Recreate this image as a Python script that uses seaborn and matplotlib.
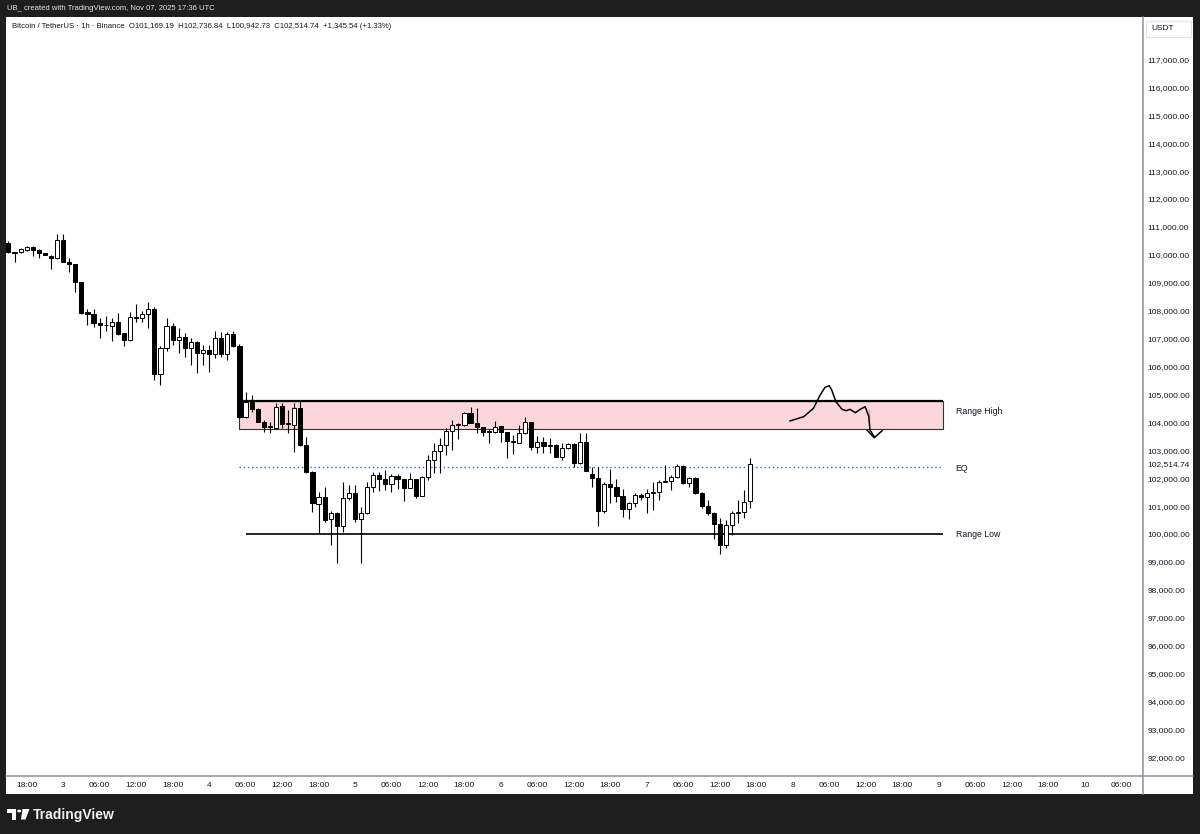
import matplotlib
matplotlib.use("Agg")
import matplotlib.pyplot as plt
from matplotlib.patches import Rectangle, Polygon, Circle
from matplotlib.lines import Line2D
import seaborn as sns
import pandas as pd
import numpy as np

# ---------------- data ----------------
# hourly candles, hour offset from Nov 3 00:00 UTC (Nov 2 15:00 -> Nov 7 17:00)
hours = list(range(-9, 114))
opens = [110413, 110080, 110112, 110173, 110291, 110173, 110065, 109969, 109876, 110531,
         109754, 109661, 109016, 107940, 107870, 107569, 107470, 107440, 107583, 107190,
         106940, 107762, 107726, 107870, 108049, 105731, 106652, 107451, 106949, 107067,
         106652, 106860, 106473, 106580, 106448, 107010, 106448, 107153, 106745, 104180,
         104739, 104478, 104023, 103822, 103786, 104596, 103929, 103904, 104503, 103188,
         102230, 101085, 101325, 100527, 100741, 100287, 101279, 101469, 100537, 100741,
         101673, 102113, 101959, 101802, 102088, 101959, 101658, 101959, 101372, 102031,
         102651, 102984, 103188, 103700, 103904, 103904, 104323, 103987, 103822, 103700,
         103664, 103870, 103643, 103342, 103270, 103607, 104001, 103106, 103306, 103163,
         103188, 102769, 103091, 103213, 102532, 103306, 102149, 101995, 100835, 101791,
         101694, 101361, 100885, 101100, 101397, 101315, 101458, 101515, 101873, 101898,
         102031, 102436, 101816, 101995, 101480, 101003, 100741, 100358, 99606, 100322,
         100763, 100799, 101169.19]
highs = [110495, 110115, 110234, 110316, 110310, 110200, 110080, 109985, 110735, 110735,
         109876, 109680, 109030, 108060, 108060, 107726, 107819, 107748, 107905, 107200,
         107941, 108239, 107988, 108321, 108142, 106745, 107748, 107547, 107368, 107189,
         107010, 106900, 106770, 106770, 107271, 107225, 107250, 107271, 106800, 105097,
         104979, 104500, 104080, 104023, 104682, 104682, 104442, 104682, 104800, 103485,
         102260, 101494, 101694, 100824, 100799, 101873, 101755, 101755, 100978, 101873,
         102232, 102210, 102292, 102138, 102138, 101980, 102174, 101980, 102078, 102830,
         103249, 103428, 103786, 104083, 103987, 104381, 104538, 104503, 103840, 103750,
         104058, 103880, 103660, 103546, 103904, 104180, 104010, 103510, 103464, 103428,
         103224, 103249, 103270, 103270, 103607, 103607, 102411, 102411, 101873, 102318,
         101959, 101601, 101157, 101458, 101458, 101601, 101873, 101934, 102472, 102113,
         102507, 102472, 102052, 102052, 101490, 101218, 100799, 100562, 100501, 100835,
         101218, 101576, 102736.84]
lows = [110065, 109755, 110055, 110155, 109969, 109897, 109980, 109481, 109860, 109740,
        109395, 108679, 107890, 107486, 107425, 107010, 107271, 106913, 107130, 106745,
        106930, 107605, 107605, 107390, 105516, 105337, 106555, 106770, 106473, 106351,
        106054, 105756, 106054, 105813, 106293, 106351, 106233, 106710, 104150, 104160,
        104381, 104000, 103643, 103607, 103770, 103786, 103607, 102948, 103170, 102174,
        100799, 100025, 100441, 99606, 98950, 100082, 101218, 100441, 98950, 100720,
        101494, 101540, 101576, 101494, 101612, 101182, 101640, 101300, 101360, 101934,
        102196, 102196, 102830, 103009, 103392, 103870, 103965, 103629, 103510, 103270,
        103629, 103306, 102712, 102855, 103260, 103580, 103009, 102891, 102891, 102891,
        102760, 102651, 103034, 102411, 102520, 102250, 101694, 100287, 100763, 101100,
        101157, 100620, 100527, 100978, 101218, 100763, 100860, 101218, 101860, 101576,
        101995, 101791, 101694, 101433, 100921, 100681, 99810, 99284, 99488, 99964,
        100383, 100562, 100942.73]
closes = [110112, 110100, 110198, 110291, 110173, 110076, 109994, 109897, 110531, 109754,
          109661, 109016, 107905, 107870, 107569, 107486, 107490, 107583, 107164, 106949,
          107762, 107740, 107880, 108049, 105731, 106652, 107451, 106949, 107067, 106652,
          106888, 106473, 106580, 106448, 107010, 106448, 107153, 106745, 104180, 104739,
          104478, 104023, 103822, 103840, 104560, 103929, 103940, 104503, 103188, 102210,
          101100, 101325, 100501, 100741, 100287, 101279, 101469, 100537, 100741, 101673,
          102113, 101959, 101802, 102088, 101959, 101658, 101959, 101372, 102031, 102651,
          102984, 103188, 103700, 103904, 103930, 104323, 103987, 103822, 103664, 103654,
          103843, 103643, 103342, 103306, 103607, 104001, 103106, 103306, 103163, 103180,
          102769, 103091, 103213, 102532, 103306, 102250, 101995, 100835, 101791, 101694,
          101361, 100885, 101100, 101397, 101336, 101458, 101515, 101873, 101890, 102031,
          102436, 101816, 101995, 101458, 101003, 100741, 100358, 99606, 100322, 100763,
          100799, 101157, 102514.74]

# levels drawn on the chart
range_high_top = 104775
range_high_bottom = 103760
eq_level = 102410
range_low = 100000
zone_start, zone_end = 29, 144.7
low_start = 30
level_labels = ["Range High", "EQ", "Range Low"]
level_label_prices = [104400, 102330, 100000]

# hand-drawn projection path
path_hours = [119.5, 121.8, 123.4, 124.5, 125.3, 126.0, 126.4, 127.1, 128.1, 128.8,
              129.4, 130.3, 131.1, 131.9, 132.5, 132.5, 132.7, 133.4]
path_prices = [104048, 104202, 104503, 104979, 105255, 105312, 105158, 104739, 104467, 104417,
               104467, 104345, 104467, 104560, 104467, 103965, 103725, 103485]
arrow_hours = [132.2, 133.4, 134.7]
arrow_prices = [103725, 103449, 103700]

price_ticks = list(range(92000, 118000, 1000))
last_price = 102514.74
time_ticks = list(range(-6, 175, 6))
time_labels = ["18:00", "3", "06:00", "12:00", "18:00", "4", "06:00", "12:00", "18:00", "5",
               "06:00", "12:00", "18:00", "6", "06:00", "12:00", "18:00", "7", "06:00", "12:00",
               "18:00", "8", "06:00", "12:00", "18:00", "9", "06:00", "12:00", "18:00", "10", "06:00"]

header = "UB_ created with TradingView.com, Nov 07, 2025 17:36 UTC"
title = ("Bitcoin / TetherUS \u00b7 1h \u00b7 Binance  O101,169.19  H102,736.84  "
         "L100,942.73  C102,514.74  +1,345.54 (+1.33%)")

# ---------------- style ----------------
sns.set_theme(style="white")
plt.rcParams['font.family'] = ['Liberation Sans', 'DejaVu Sans']
FS = 6.0
TXT = '#131722'
DARK = '#1e1e1e'
GRID = '#9598a1'

W, H = 1200, 834
fig = plt.figure(figsize=(12, 8.34), dpi=100, facecolor=DARK)

def fx(x):
    return x / W

def fy(y):
    return 1 - y / H

# white chart panel (behind everything)
fig.patches.append(Rectangle((fx(6), fy(794)), fx(1193 - 6), (794 - 17) / H,
                             transform=fig.transFigure, facecolor='white', edgecolor='none', zorder=-5))

ax = fig.add_axes([fx(6), fy(776), fx(1143 - 6), (776 - 17) / H])
ax.set_zorder(1)
ax.set_facecolor('white')
for s in ax.spines.values():
    s.set_visible(False)

df = pd.DataFrame({"hour": hours, "open": opens, "high": highs, "low": lows, "close": closes})
df["up"] = df["close"] >= df["open"]
df["body_lo"] = df[["open", "close"]].min(axis=1)
df["body_h"] = (df["close"] - df["open"]).abs().clip(lower=30)

# zone
ax.add_patch(Rectangle((zone_start, range_high_bottom), zone_end - zone_start,
                       range_high_top - range_high_bottom, facecolor='#fbd7db',
                       edgecolor='#333333', linewidth=0.8, zorder=1))
ax.hlines(range_high_top, zone_start, zone_end, color='black', linewidth=1.6, zorder=2)
# EQ and range low
ax.hlines(eq_level, zone_start, zone_end, color='#2f63e8', linewidth=1.0,
          linestyles=(0, (1, 2)), zorder=2)
ax.hlines(range_low, low_start, zone_end, color='black', linewidth=1.2, zorder=2)

# candles
ax.vlines(df["hour"], df["low"], df["high"], color='black', linewidth=0.8, zorder=3)
ax.bar(df["hour"], df["body_h"], bottom=df["body_lo"], width=0.68,
       color=np.where(df["up"], 'white', 'black'), edgecolor='black', linewidth=0.7, zorder=4)

# hand-drawn path
path_df = pd.DataFrame({"h": path_hours, "p": path_prices})
sns.lineplot(data=path_df, x="h", y="p", sort=False, color='black', linewidth=1.1, ax=ax, zorder=5)
arrow_df = pd.DataFrame({"h": arrow_hours, "p": arrow_prices})
sns.lineplot(data=arrow_df, x="h", y="p", sort=False, color='black', linewidth=1.1, ax=ax, zorder=5)

# labels of levels
lbl_x = 146.8
for lab, lvl in zip(level_labels, level_label_prices):
    ax.text(lbl_x, lvl, lab, fontsize=FS + 0.3, color=TXT, va='center', ha='left', zorder=6)

ax.set_xlim(-9.4, 177.6)
ax.set_ylim(91332, 118519)
ax.set_xlabel("")
ax.set_ylabel("")

ax.yaxis.tick_right()
yt = price_ticks + [last_price]
ax.set_yticks(yt)
ax.set_yticklabels([f"{v:,.2f}" for v in yt])
ax.set_xticks(time_ticks)
ax.set_xticklabels(time_labels)
ax.tick_params(axis='y', length=0, pad=3.2, labelsize=FS, labelcolor=TXT)
ax.tick_params(axis='x', length=0, pad=4.2, labelsize=FS, labelcolor=TXT)
ax.grid(False)

# separators
fig.lines.append(Line2D([fx(6), fx(1193)], [fy(776), fy(776)], transform=fig.transFigure,
                        color=GRID, linewidth=1.2, zorder=3))
fig.lines.append(Line2D([fx(1143), fx(1143)], [fy(17), fy(794)], transform=fig.transFigure,
                        color=GRID, linewidth=1.2, zorder=3))

# USDT box
fig.patches.append(Rectangle((fx(1146), fy(36.7)), fx(44.5), 16 / H, transform=fig.transFigure,
                             facecolor='white', edgecolor='#e0e3eb', linewidth=0.8, zorder=3))
fig.text(fx(1151), fy(28.7), "USDT", fontsize=FS, color=TXT, va='center', ha='left', zorder=4)

# header and title
fig.text(fx(7), fy(8.7), header, fontsize=5.5, color='#e6e6e6', va='center', ha='left')
fig.text(fx(12), fy(27), title, fontsize=5.6, color=TXT, va='center', ha='left', zorder=4)

# TradingView logo
fig.patches.append(Rectangle((fx(7.3), fy(813)), fx(8.7), 4 / H, transform=fig.transFigure,
                             facecolor='white', edgecolor='none'))
fig.patches.append(Rectangle((fx(12), fy(819.5)), fx(4), 10.5 / H, transform=fig.transFigure,
                             facecolor='white', edgecolor='none'))
fig.patches.append(Circle((fx(19.2), fy(811)), 2.0 / W, transform=fig.transFigure,
                          facecolor='white', edgecolor='none'))
fig.patches.append(Polygon([(fx(22.5), fy(809)), (fx(29.5), fy(809)), (fx(25.5), fy(819.5)),
                            (fx(21.0), fy(819.5))], closed=True, transform=fig.transFigure,
                           facecolor='white', edgecolor='none'))
fig.text(fx(32.5), fy(814.5), "TradingView", fontsize=10, fontweight='bold', color='#f0f0f0',
         va='center', ha='left')

fig.savefig("out.png", dpi=100, facecolor=DARK)
